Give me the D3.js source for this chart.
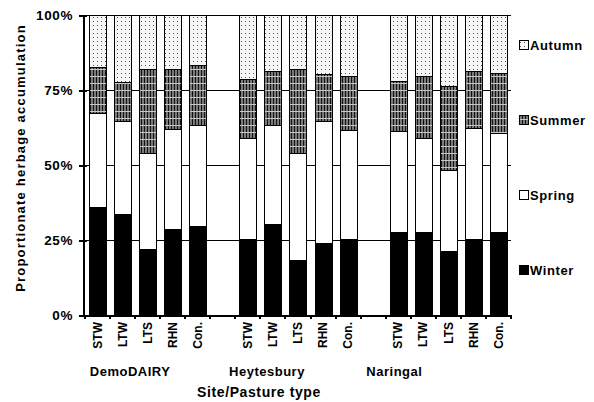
<!DOCTYPE html>
<meta charset="utf-8">
<script src="https://d3js.org/d3.v7.min.js"></script>
<style type="text/css">
body { margin: 0; background: #fff; }
text { font-family: "Liberation Sans", Arial, sans-serif; font-weight: bold; fill: #000; }
.grade { stroke: #000; stroke-width: 1; shape-rendering: crispEdges; }
.segmento { stroke: #000; stroke-width: 1; shape-rendering: crispEdges; }
</style>
<body>
<div id="canvas"></div>
<script>

// dados ---------------------------------------------------------------
var sites = ["DemoDAIRY", "Heytesbury", "Naringal"];
var pastures = ["STW", "LTW", "LTS", "RHN", "Con."];
var seasons = ["Winter", "Spring", "Summer", "Autumn"];

// proporcao de cada estacao (%), por site, na ordem de pastures
var winter = [
    [35.9, 33.7, 21.9, 28.7, 29.8],
    [25.2, 30.2, 18.4, 23.9, 25.2],
    [27.8, 27.6, 21.3, 25.4, 27.8]
];
var spring = [
    [31.5, 31.1, 32.0, 33.4, 33.6],
    [33.9, 33.2, 35.5, 40.9, 36.3],
    [33.4, 31.3, 27.1, 37.1, 32.8]
];
var summer = [
    [15.2, 12.8, 28.2, 20.0, 20.1],
    [19.4, 17.8, 28.2, 15.6, 18.0],
    [16.9, 20.6, 27.8, 18.8, 20.2]
];
var autumn = [
    [17.4, 22.4, 17.9, 17.9, 16.5],
    [21.5, 18.8, 17.9, 19.6, 20.5],
    [21.9, 20.5, 23.8, 18.7, 19.2]
];
var yTicks = [0, 0.25, 0.5, 0.75, 1];

var width = 594;
var height = 402;

var svg = d3.select('#canvas')
    .append("svg")
    .attr("width", width)
    .attr("height", height);

var margin = {top: 15, right: 83, bottom: 87, left: 85};
var plotW = width - margin.left - margin.right;
var plotH = height - margin.top - margin.bottom;

// padroes de preenchimento -------------------------------------------
var defs = svg.append("defs");

var pAut = defs.append("pattern")
    .attr("id", "autumn")
    .attr("patternUnits", "userSpaceOnUse")
    .attr("width", 4).attr("height", 4);
pAut.append("rect").attr("width", 4).attr("height", 4).attr("fill", "#f6f6f6");
pAut.append("rect").attr("x", 1).attr("y", 1).attr("width", 1).attr("height", 1).attr("fill", "#555");

var pSum = defs.append("pattern")
    .attr("id", "summer")
    .attr("patternUnits", "userSpaceOnUse")
    .attr("width", 3).attr("height", 7);
pSum.append("rect").attr("width", 3).attr("height", 7).attr("fill", "#7a7a7a");
pSum.append("rect").attr("x", 0).attr("width", 1).attr("height", 7).attr("fill", "#111");
pSum.append("rect").attr("y", 6).attr("width", 3).attr("height", 1).attr("fill", "#c8c8c8");

var fills = {
    "Winter": "#000",
    "Spring": "#fff",
    "Summer": "url(#summer)",
    "Autumn": "url(#autumn)"
};

// eixo X ----------------------------------------------------------
var slots = [];
sites.forEach(function(s, i) {
    if (i > 0) slots.push("gap" + i);
    pastures.forEach(function(p) { slots.push(s + "|" + p); });
});

var x = d3.scaleBand()
    .domain(slots)
    .range([margin.left, margin.left + plotW])
    .paddingInner(0.32)
    .paddingOuter(0.16);

// eixo Y ----------------------------------------------------------
var y = d3.scaleLinear()
    .domain([0, 1])
    .range([margin.top + plotH, margin.top]);

// linhas de grade
svg.append("g")
    .selectAll("line")
    .data(yTicks.filter(function(d) { return d > 0; }))
    .enter()
    .append("line")
    .attr("class", "grade")
    .attr("x1", margin.left)
    .attr("x2", margin.left + plotW)
    .attr("y1", function(d) { return Math.round(y(d)) + 0.5; })
    .attr("y2", function(d) { return Math.round(y(d)) + 0.5; });

// pilhas -------------------------------------------------------------
var rows = [];
sites.forEach(function(s, i) {
    pastures.forEach(function(p, j) {
        rows.push({
            key: s + "|" + p,
            Winter: winter[i][j] / 100,
            Spring: spring[i][j] / 100,
            Summer: summer[i][j] / 100,
            Autumn: autumn[i][j] / 100
        });
    });
});

var stack = d3.stack().keys(seasons).offset(d3.stackOffsetExpand);
var series = stack(rows);

svg.append("g")
    .selectAll("g")
    .data(series)
    .enter()
    .append("g")
    .attr("fill", function(d) { return fills[d.key]; })
    .selectAll("rect")
    .data(function(d) { return d; })
    .enter()
    .append("rect")
    .attr("class", "segmento")
    .attr("x", function(d) { return Math.round(x(d.data.key)) + 0.5; })
    .attr("width", Math.round(x.bandwidth()))
    .attr("y", function(d) { return Math.round(y(d[1])) + 0.5; })
    .attr("height", function(d) { return Math.round(y(d[0])) - Math.round(y(d[1])); });

// eixo Y desenhado a mao -------------------------------------------
var gy = svg.append("g");
gy.append("line")
    .attr("class", "grade")
    .style("stroke-width", 2)
    .attr("x1", margin.left - 1).attr("x2", margin.left - 1)
    .attr("y1", y(1)).attr("y2", y(0) + 1);
gy.selectAll(".tk")
    .data(yTicks)
    .enter()
    .append("line")
    .attr("class", "grade")
    .style("stroke-width", 2)
    .attr("x1", margin.left - 6).attr("x2", margin.left + 2)
    .attr("y1", function(d) { return Math.round(y(d)) + 0.5; })
    .attr("y2", function(d) { return Math.round(y(d)) + 0.5; });
gy.selectAll(".lb")
    .data(yTicks)
    .enter()
    .append("text")
    .attr("x", margin.left - 12)
    .attr("y", function(d) { return y(d); })
    .attr("dy", "0.35em")
    .attr("text-anchor", "end")
    .style("font-size", "13.5px")
    .style("letter-spacing", "0.6px")
    .text(d3.format(".0%"));

// eixo X: linha e marcas ----------------------------------------------
var gx = svg.append("g");
gx.append("line")
    .attr("class", "grade")
    .style("stroke-width", 2)
    .attr("x1", margin.left - 2).attr("x2", margin.left + plotW)
    .attr("y1", y(0) + 0.5).attr("y2", y(0) + 0.5);
gx.selectAll(".tk")
    .data(d3.range(slots.length + 1))
    .enter()
    .append("line")
    .attr("class", "grade")
    .style("stroke-width", 2)
    .attr("x1", function(i) { return Math.round(margin.left + i * x.step()); })
    .attr("x2", function(i) { return Math.round(margin.left + i * x.step()); })
    .attr("y1", y(0)).attr("y2", y(0) + 4);

gx.selectAll(".lb")
    .data(rows)
    .enter()
    .append("text")
    .attr("transform", function(d) {
        return "translate(" + (x(d.key) + x.bandwidth() / 2) + "," + (y(0) + 7) + ") rotate(-90)";
    })
    .attr("dy", "0.35em")
    .attr("text-anchor", "end")
    .style("font-size", "12px")
    .text(function(d) { return d.key.split("|")[1]; });

// rotulos dos sites (deslocados a esquerda, como no original)
var siteOffset = [-17.5, -31, -54];
svg.selectAll(".site")
    .data(sites)
    .enter()
    .append("text")
    .attr("x", function(d, i) { return x(d + "|" + pastures[2]) + x.bandwidth() / 2 + siteOffset[i]; })
    .attr("y", 371)
    .attr("dy", "0.35em")
    .attr("text-anchor", "middle")
    .style("font-size", "13px")
    .style("letter-spacing", "0.5px")
    .text(function(d) { return d; });

// titulos dos eixos
svg.append("text")
    .attr("x", 259)
    .attr("y", 392)
    .attr("dy", "0.35em")
    .attr("text-anchor", "middle")
    .style("font-size", "14px")
    .style("letter-spacing", "0.6px")
    .text("Site/Pasture type");

svg.append("text")
    .attr("transform", "translate(20,158) rotate(-90)")
    .attr("dy", "0.35em")
    .attr("text-anchor", "middle")
    .style("font-size", "13px")
    .style("letter-spacing", "1.2px")
    .text("Proportionate herbage accumulation");

// legenda -------------------------------------------------------------
var legPos = [0.15, 0.4, 0.65, 0.9];
var leg = svg.selectAll(".leg")
    .data(seasons)
    .enter()
    .append("g")
    .attr("transform", function(d, i) { return "translate(519," + Math.round(y(legPos[i])) + ")"; });
leg.append("rect")
    .attr("class", "segmento")
    .attr("x", 0.5).attr("y", -4.5)
    .attr("width", 9).attr("height", 9)
    .attr("fill", function(d) { return fills[d]; });
leg.append("text")
    .attr("x", 11)
    .attr("dy", "0.35em")
    .style("font-size", "13px")
    .style("letter-spacing", "0.6px")
    .text(function(d) { return d; });
</script>
</body>
